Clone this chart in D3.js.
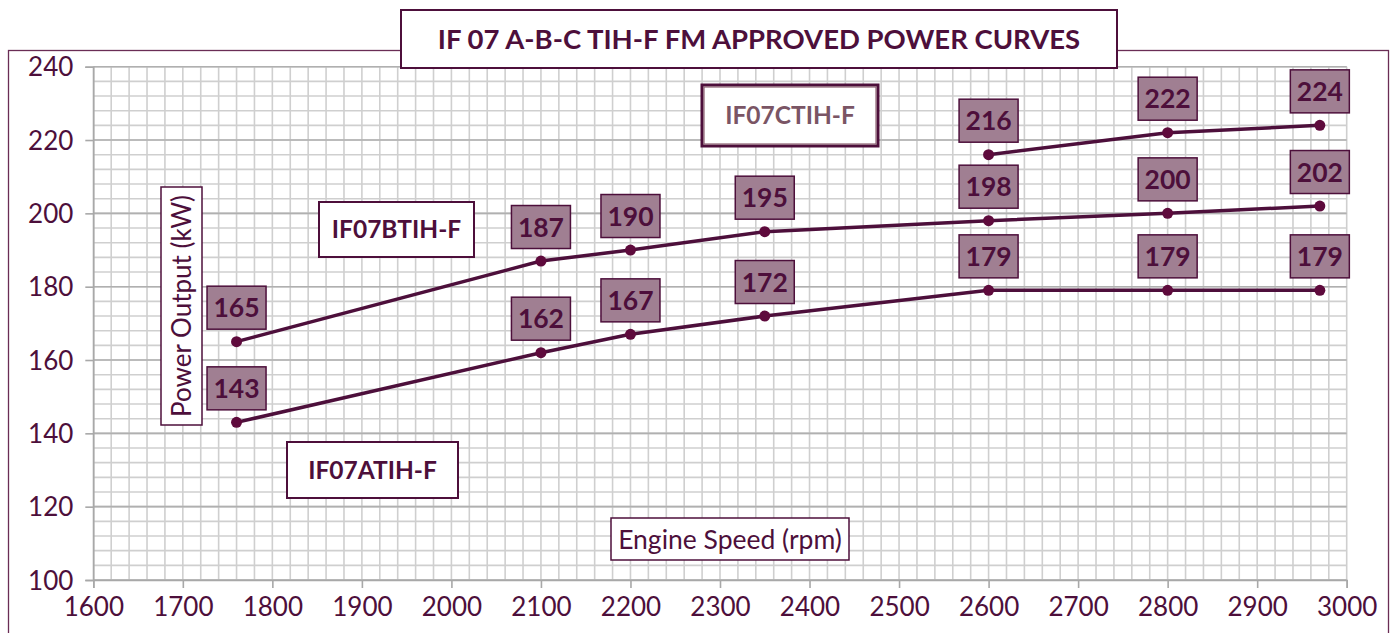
<!DOCTYPE html>
<html>
<head>
<meta charset="utf-8">
<script src="https://cdn.jsdelivr.net/npm/d3@7"></script>
<style>
  body { margin: 0; background: #fff; }
  svg { display: block; font-family: Lato, "Open Sans", sans-serif; }
</style>
</head>
<body>
<div id="wrapper"></div>
<script>
const rpmA = [1760, 2100, 2200, 2350, 2600, 2800, 2970];
const powerA = [143, 162, 167, 172, 179, 179, 179];
const rpmB = [1760, 2100, 2200, 2350, 2600, 2800, 2970];
const powerB = [165, 187, 190, 195, 198, 200, 202];
const rpmC = [2600, 2800, 2970];
const powerC = [216, 222, 224];
const xTicks = [1600, 1700, 1800, 1900, 2000, 2100, 2200, 2300, 2400, 2500, 2600, 2700, 2800, 2900, 3000];
const yTicks = [100, 120, 140, 160, 180, 200, 220, 240];

const dark = "#4d0f3b";
const labelFill = "#a07f92";

const width = 1397;
const height = 633;
let dimensions = {
    margin: { top: 66.7, right: 50.3, bottom: 53, left: 93.3 }
};
dimensions.boundedWidth = width - dimensions.margin.left - dimensions.margin.right;
dimensions.boundedHeight = height - dimensions.margin.top - dimensions.margin.bottom;

const wrapper = d3.select("#wrapper")
    .append("svg")
    .attr("width", width)
    .attr("height", height)

// outer chart border
wrapper.append("rect")
    .attr("x", 8.5).attr("y", 50.5)
    .attr("width", 1380).attr("height", 640)
    .attr("fill", "none")
    .attr("stroke", "#6a2d55")
    .attr("stroke-width", 1.3)

const bounds = wrapper.append("g")
    .attr("transform", `translate(${dimensions.margin.left},${dimensions.margin.top})`);

const xScale = d3.scaleLinear()
    .domain([1600, 3000])
    .range([0, dimensions.boundedWidth]);
const yScale = d3.scaleLinear()
    .domain([100, 240])
    .range([dimensions.boundedHeight, 0]);

// minor grid
const xMinor = d3.range(1600, 3001, 20);
const yMinor = d3.range(100, 241, 4);
bounds.append("g").selectAll("line")
    .data(xMinor)
    .join("line")
    .attr("x1", d => xScale(d)).attr("x2", d => xScale(d))
    .attr("y1", 0).attr("y2", dimensions.boundedHeight)
    .attr("stroke", "#cfcfcf").attr("stroke-width", 1.6)
bounds.append("g").selectAll("line")
    .data(yMinor)
    .join("line")
    .attr("x1", 0).attr("x2", dimensions.boundedWidth)
    .attr("y1", d => yScale(d)).attr("y2", d => yScale(d))
    .attr("stroke", "#cfcfcf").attr("stroke-width", 1.6)
// major horizontal grid
bounds.append("g").selectAll("line")
    .data(yTicks)
    .join("line")
    .attr("x1", 0).attr("x2", dimensions.boundedWidth)
    .attr("y1", d => yScale(d)).attr("y2", d => yScale(d))
    .attr("stroke", "#b0b0b0").attr("stroke-width", 1.6)

// axes
const yAxis = d3.axisLeft(yScale).tickValues(yTicks).tickSize(8).tickPadding(12)
    .tickFormat(d3.format("d"));
const xAxis = d3.axisBottom(xScale).tickValues(xTicks).tickSize(8).tickPadding(6)
    .tickFormat(d3.format("d"));

const yAxisG = bounds.append("g").call(yAxis);
const xAxisG = bounds.append("g")
    .attr("transform", `translate(0,${dimensions.boundedHeight})`)
    .call(xAxis);

[yAxisG, xAxisG].forEach(g => {
    g.select(".domain").attr("stroke", "#a8a8a8").attr("stroke-width", 1.6);
    g.selectAll(".tick line").attr("stroke", "#a8a8a8").attr("stroke-width", 1.6);
    g.selectAll("text")
        .attr("fill", dark)
        .style("font-size", "26px")
        .style("font-family", "Lato, sans-serif");
});
yAxisG.selectAll("text").attr("dy", "0.35em");
xAxisG.selectAll("text").attr("dy", "0.85em");

// series
const series = [
    { name: "A", rpm: rpmA, power: powerA },
    { name: "B", rpm: rpmB, power: powerB },
    { name: "C", rpm: rpmC, power: powerC }
];

const line = d3.line()
    .x(d => xScale(d.rpm))
    .y(d => yScale(d.power));

series.forEach(s => {
    const pts = s.rpm.map((r, i) => ({ rpm: r, power: s.power[i] }));
    bounds.append("path")
        .datum(pts)
        .attr("d", line)
        .attr("fill", "none")
        .attr("stroke", dark)
        .attr("stroke-width", 3.5)

    bounds.append("g").selectAll("circle")
        .data(pts)
        .join("circle")
        .attr("cx", d => xScale(d.rpm))
        .attr("cy", d => yScale(d.power))
        .attr("r", 5.5)
        .attr("fill", "#5e0a3c")

    const labels = bounds.append("g").selectAll("g")
        .data(pts)
        .join("g")
        .attr("transform", d => `translate(${xScale(d.rpm)},${yScale(d.power) - 34})`)
    labels.append("rect")
        .attr("x", -29.5).attr("y", -21.5)
        .attr("width", 59).attr("height", 43)
        .attr("fill", labelFill)
        .attr("stroke", dark)
        .attr("stroke-width", 1.5)
    labels.append("text")
        .attr("text-anchor", "middle")
        .attr("dy", "0.36em")
        .style("font-size", "26.5px")
        .style("font-weight", "bold")
        .attr("fill", dark)
        .text(d => d.power)
});

// text boxes
function textBox(x, y, w, h, txt, opts) {
    const g = wrapper.append("g");
    g.append("rect")
        .attr("x", x).attr("y", y).attr("width", w).attr("height", h)
        .attr("fill", "#fff")
        .attr("stroke", opts.stroke || dark)
        .attr("stroke-width", opts.sw || 2)
    if (opts.inner) {
        g.append("rect")
            .attr("x", x + 2).attr("y", y + 2).attr("width", w - 4).attr("height", h - 4)
            .attr("fill", "none")
            .attr("stroke", opts.inner)
            .attr("stroke-width", 1.2)
    }
    const t = g.append("text")
        .attr("text-anchor", "middle")
        .attr("dy", "0.36em")
        .style("font-size", opts.size + "px")
        .style("font-weight", opts.bold ? "bold" : "normal")
        .attr("fill", opts.color || dark)
        .text(txt)
    if (opts.rotate) {
        t.attr("transform", `translate(${x + w / 2},${y + h / 2}) rotate(-90)`);
    } else {
        t.attr("x", x + w / 2).attr("y", y + h / 2);
    }
}

textBox(401, 10, 716, 58, "IF 07 A-B-C TIH-F FM APPROVED POWER CURVES", { size: 27.5, bold: true, sw: 2 });
textBox(319, 202, 155, 55, "IF07BTIH-F", { size: 24.5, bold: true, sw: 2 });
textBox(287, 442, 171, 56, "IF07ATIH-F", { size: 24.5, bold: true, sw: 2 });
textBox(702, 85, 176, 61, "IF07CTIH-F", { size: 24.5, bold: true, sw: 3, inner: "#8a6070", color: "#7a5565" });
textBox(161, 187, 41, 238, "Power Output (kW)", { size: 26, sw: 1.5, rotate: true });
textBox(611, 518, 238, 42, "Engine Speed (rpm)", { size: 26.5, sw: 1.5 });
</script>
</body>
</html>
